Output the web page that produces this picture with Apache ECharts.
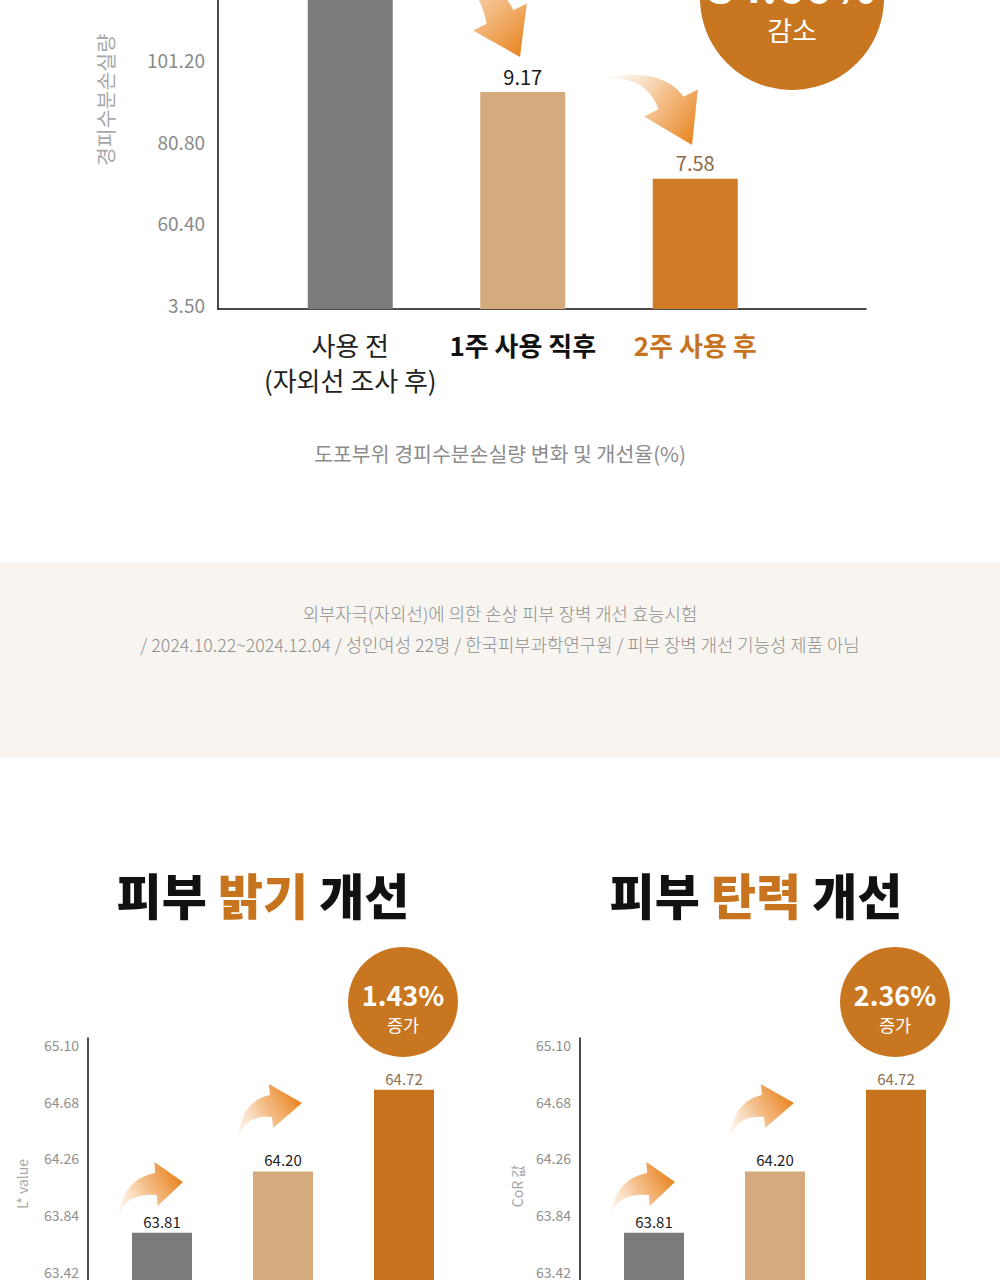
<!DOCTYPE html>
<html>
<head>
<meta charset="utf-8">
<script src="https://cdn.jsdelivr.net/npm/echarts@6/dist/echarts.min.js"></script>
<style>
  html, body { margin: 0; padding: 0; background: #fff; }
  #chart { width: 1000px; height: 1280px; }
</style>
</head>
<body>
<div id="chart"></div>
<script>
// 경피수분손실량 (도포부위)
const tewlCategories = ['사용 전\n(자외선 조사 후)', '1주 사용 직후', '2주 사용 후']
const tewlValues = [11.6, 9.17, 7.58]
const tewlTickLabels = ['3.50', '60.40', '80.80', '101.20']
const tewlRate = '34.66%'

// 피부 밝기 / 피부 탄력
const stepCategories = ['사용 전', '1주 사용 직후', '2주 사용 후']
const brightValues = [63.81, 64.20, 64.72]
const elasticValues = [63.81, 64.20, 64.72]
const brightRate = '1.43%'
const elasticRate = '2.36%'

const FONT = '"Noto Sans CJK KR", "Noto Sans", sans-serif'
const ORANGE = '#c8741e'
const barColors = ['#7b7b7b', '#d5aa7d', '#cf7b27']
const labelColors = ['#1a1a1a', '#1a1a1a', '#8d6a45']

const chart = echarts.init(document.getElementById('chart'), null, { renderer: 'svg' })

// 곡선 화살표 (장식) - 2차 베지어 몸통 + 삼각형 머리
function arrow(t, c, b, p, wb, wh) {
  const dx = p[0] - b[0], dy = p[1] - b[1], len = Math.hypot(dx, dy)
  const nx = -dy / len, ny = dx / len
  const quad = (a, m, z, s) => [
    (1 - s) * (1 - s) * a[0] + 2 * (1 - s) * s * m[0] + s * s * z[0],
    (1 - s) * (1 - s) * a[1] + 2 * (1 - s) * s * m[1] + s * s * z[1],
  ]
  const off = (o, k) => [o[0] + nx * k, o[1] + ny * k]
  const left = [], right = []
  for (let i = 0; i <= 16; i++) {
    const s = i / 16
    left.push(quad(t, off(c, wb * 0.6), off(b, wb), s))
    right.push(quad(t, off(c, -wb * 0.6), off(b, -wb), s))
  }
  const pts = left.concat([off(b, wh), p, off(b, -wh)], right.reverse())
  return {
    type: 'polygon',
    shape: { points: pts },
    style: {
      fill: {
        type: 'linear', x: t[0], y: t[1], x2: p[0], y2: p[1], global: true,
        colorStops: [
          { offset: 0, color: 'rgba(250,225,195,0.1)' },
          { offset: 0.55, color: 'rgba(240,170,100,0.75)' },
          { offset: 1, color: '#e8831e' },
        ],
      },
    },
  }
}

function text(x, y, str, size, color, weight, extra) {
  return Object.assign({
    type: 'text', x: x, y: y,
    style: {
      text: str, fontSize: size, fontFamily: FONT, fontWeight: weight || 'normal',
      fill: color, align: 'center', verticalAlign: 'middle',
    },
  }, extra || {})
}

function circle(cx, cy, r) {
  return { type: 'circle', shape: { cx: cx, cy: cy, r: r }, style: { fill: '#c97621' } }
}

function title(x, y, word) {
  return {
    type: 'text', x: x, y: y,
    style: {
      text: `{k|피부 }{o|${word}}{k| 개선}`,
      align: 'center', verticalAlign: 'middle',
      rich: {
        k: { fontSize: 49, fontWeight: 900, fontFamily: FONT, fill: '#111' },
        o: { fontSize: 49, fontWeight: 900, fontFamily: FONT, fill: ORANGE },
      },
    },
  }
}

function bars(xi, values, colors, lblColors, width, fontSize, dist, hideFirst) {
  return {
    type: 'bar',
    xAxisIndex: xi, yAxisIndex: xi,
    barWidth: width,
    data: values.map((v, i) => ({
      value: v,
      itemStyle: { color: colors[i] },
      label: { show: !(hideFirst && i === 0), color: lblColors[i] },
    })),
    label: {
      position: 'top', distance: dist, fontSize: fontSize, fontFamily: FONT,
      formatter: (p) => p.value.toFixed(2),
    },
  }
}

const catStyle = ['a', 'b', 'c']
const frameAxisLine = { show: true, lineStyle: { color: '#111', width: 1.5 } }

const grids = [
  { left: 218, width: 648, top: -17, height: 326 },
  { left: 264, width: 517.5, top: -17, height: 326 },
  { left: 88, width: 400, top: 1038, height: 347 },
  { left: 101.5, width: 363, top: 1038, height: 347 },
  { left: 580, width: 400, top: 1038, height: 347 },
  { left: 593.5, width: 363, top: 1038, height: 347 },
].map((g) => Object.assign({ outerBoundsMode: 'none', containLabel: false }, g))

const bottomFrameY = (gi) => ({
  gridIndex: gi, type: 'value', min: 62.58, max: 65.153, interval: 0.42,
  axisLine: frameAxisLine, axisTick: { show: false }, splitLine: { show: false },
  axisLabel: {
    showMaxLabel: false, margin: 9, color: '#8e8e8e', fontSize: 14, fontFamily: FONT,
    formatter: (v) => v.toFixed(2),
  },
})

const option = {
  animation: false,
  backgroundColor: '#fff',
  grid: grids,
  xAxis: [
    { gridIndex: 0, type: 'category', data: [''], axisLine: frameAxisLine, axisTick: { show: false }, axisLabel: { show: false } },
    {
      gridIndex: 1, type: 'category', data: tewlCategories,
      axisLine: { show: false }, axisTick: { show: false },
      axisLabel: {
        margin: 18, interval: 0,
        formatter: (v, i) => v.split('\n').map((s) => `{${catStyle[i]}|${s}}`).join('\n'),
        rich: {
          a: { fontSize: 26, lineHeight: 35, color: '#222', fontFamily: FONT },
          b: { fontSize: 26, lineHeight: 35, color: '#111', fontWeight: 'bold', fontFamily: FONT },
          c: { fontSize: 26, lineHeight: 35, color: ORANGE, fontWeight: 'bold', fontFamily: FONT },
        },
      },
    },
    { gridIndex: 2, type: 'category', data: [''], show: false },
    { gridIndex: 3, type: 'category', data: stepCategories, show: false },
    { gridIndex: 4, type: 'category', data: [''], show: false },
    { gridIndex: 5, type: 'category', data: stepCategories, show: false },
  ],
  yAxis: [
    {
      gridIndex: 0, type: 'value', min: 0, max: 4, interval: 1,
      axisLine: frameAxisLine, axisTick: { show: false }, splitLine: { show: false },
      axisLabel: {
        showMaxLabel: false, margin: 13, color: '#8a8a8a', fontSize: 19, fontFamily: FONT,
        verticalAlign: 'bottom', lineHeight: 10,
        formatter: (v) => tewlTickLabels[Math.round(v)] || '',
      },
    },
    { gridIndex: 1, type: 'value', min: 5.19, max: 11.17, show: false },
    bottomFrameY(2),
    { gridIndex: 3, type: 'value', min: 62.84, max: 65.05, show: false },
    bottomFrameY(4),
    { gridIndex: 5, type: 'value', min: 62.84, max: 65.05, show: false },
  ],
  series: [
    bars(1, tewlValues, barColors, labelColors, 85, 20, 6, true),
    bars(3, brightValues, ['#7b7b7b', '#d5aa7d', ORANGE], ['#222', '#222', '#8a6e55'], 60, 15, 4, false),
    bars(5, elasticValues, ['#7b7b7b', '#d5aa7d', ORANGE], ['#222', '#222', '#8a6e55'], 60, 15, 4, false),
  ],
  graphic: [
    // 상단 차트 장식
    circle(792, -2, 92),
    text(792, -17, tewlRate, 46, '#fff', 'bold'),
    text(792, 29, '감소', 27, '#fff'),
    arrow([430, -45], [488, -22], [500, 17], [520, 57], 15, 30),
    arrow([598, 80], [652, 68], [671, 103], [692, 145], 14, 30),
    text(105, 100, '경피수분손실량', 20.5, '#a8a8a8', 'normal', { rotation: Math.PI / 2 }),
    text(500, 453, '도포부위 경피수분손실량 변화 및 개선율(%)', 20.5, '#8c8c8c'),

    // 시험 정보
    { type: 'rect', shape: { x: 0, y: 562, width: 1000, height: 196 }, style: { fill: '#f8f5f0' } },
    text(500, 613, '외부자극(자외선)에 의한 손상 피부 장벽 개선 효능시험', 17.8, '#8f8f8f', 300),
    text(500, 644, '/ 2024.10.22~2024.12.04 / 성인여성 22명 / 한국피부과학연구원 / 피부 장벽 개선 기능성 제품 아님', 17.8, '#8f8f8f', 300),

    // 피부 밝기
    title(263, 893, '밝기'),
    circle(403, 1002, 55),
    text(403, 994, brightRate, 27, '#fff', 'bold'),
    text(403, 1024, '증가', 17.5, '#fff'),
    arrow([118, 1222], [121, 1186], [156, 1184], [183, 1182], 11, 22),
    arrow([237, 1145], [240, 1108], [271, 1106], [302, 1103], 11, 22),
    text(22, 1184, 'L* value', 14, '#a8a8a8', 'normal', { rotation: Math.PI / 2 }),

    // 피부 탄력
    title(756, 893, '탄력'),
    circle(895, 1002, 55),
    text(895, 994, elasticRate, 27, '#fff', 'bold'),
    text(895, 1024, '증가', 17.5, '#fff'),
    arrow([610, 1222], [613, 1186], [648, 1184], [675, 1182], 11, 22),
    arrow([729, 1145], [732, 1108], [763, 1106], [794, 1103], 11, 22),
    text(517, 1186, 'CoR 값', 14, '#a8a8a8', 'normal', { rotation: Math.PI / 2 }),
  ],
}

chart.setOption(option)
</script>
</body>
</html>
